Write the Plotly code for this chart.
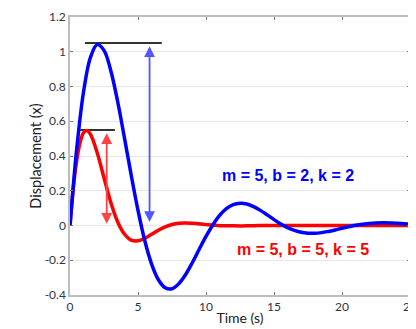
import plotly.graph_objects as go

# Time samples (s)
t_blue = [0, 0.5, 1, 1.5, 2, 2.5, 3, 3.5, 4, 4.5, 5, 5.5, 6, 6.5, 7, 7.5, 8, 8.5, 9, 9.5,
          10, 10.5, 11, 11.5, 12, 12.5, 13, 13.5, 14, 14.5, 15, 15.5, 16, 16.5, 17, 17.5,
          18, 18.5, 19, 19.5, 20, 21, 22, 23, 24, 25]
x_blue = [0, 0.446, 0.771, 0.967, 1.041, 1.008, 0.891, 0.715, 0.506, 0.290, 0.087, -0.088,
          -0.222, -0.312, -0.358, -0.364, -0.335, -0.282, -0.213, -0.137, -0.063, 0.003,
          0.058, 0.097, 0.120, 0.128, 0.124, 0.109, 0.087, 0.061, 0.034, 0.009, -0.012,
          -0.028, -0.039, -0.044, -0.045, -0.041, -0.034, -0.026, -0.016, 0.001, 0.012,
          0.016, 0.013, 0.007]

t_red = [0, 0.25, 0.5, 0.75, 1, 1.25, 1.5, 2, 2.5, 3, 3.5, 4, 4.5, 5, 5.5, 6, 6.5, 7, 7.5,
         8, 9, 10, 11, 12, 13, 14, 16, 18, 20, 22, 25]
x_red = [0, 0.219, 0.377, 0.480, 0.534, 0.546, 0.526, 0.419, 0.274, 0.133, 0.022, -0.049,
         -0.084, -0.088, -0.074, -0.051, -0.027, -0.008, 0.006, 0.013, 0.013, 0.005, -0.001,
         -0.002, -0.002, 0, 0, 0, 0, 0, 0]

blue_label = "m = 5, b = 2, k = 2"
red_label = "m = 5, b = 5, k = 5"

# peak markers / amplitude arrows
blue_peak = 1.05
red_peak = 0.55

fig = go.Figure()
# black peak lines
fig.add_trace(go.Scatter(x=[1.1, 6.75], y=[blue_peak, blue_peak], mode="lines",
                         line=dict(color="#333333", width=2), showlegend=False, hoverinfo="skip"))
fig.add_trace(go.Scatter(x=[0.75, 3.3], y=[red_peak, red_peak], mode="lines",
                         line=dict(color="#333333", width=2), showlegend=False, hoverinfo="skip"))

fig.add_trace(go.Scatter(x=t_red, y=x_red, mode="lines", line=dict(color="#ff0000", width=3.5, shape="spline"),
                         showlegend=False))
fig.add_trace(go.Scatter(x=t_blue, y=x_blue, mode="lines", line=dict(color="#0000ff", width=3.5, shape="spline"),
                         showlegend=False))

# arrows
fig.add_annotation(x=5.85, y=0.02, ax=5.85, ay=blue_peak - 0.01, xref="x", yref="y", axref="x", ayref="y",
                   showarrow=True, arrowhead=2, startarrowhead=2, arrowside="end+start",
                   arrowsize=1.2, startarrowsize=1.2, arrowwidth=1.8, arrowcolor="#5555ff", text="")
fig.add_annotation(x=2.7, y=0.01, ax=2.7, ay=red_peak - 0.01, xref="x", yref="y", axref="x", ayref="y",
                   showarrow=True, arrowhead=2, startarrowhead=2, arrowside="end+start",
                   arrowsize=1.2, startarrowsize=1.2, arrowwidth=1.8, arrowcolor="#ff4444", text="")

fig.add_annotation(x=16.0, y=0.285, text=f"<b>{blue_label}</b>", showarrow=False,
                   font=dict(family="Liberation Sans, Arial", size=16, color="#0000ff"))
fig.add_annotation(x=17.15, y=-0.138, text=f"<b>{red_label}</b>", showarrow=False,
                   font=dict(family="Liberation Sans, Arial", size=16, color="#ff0000"))

axis_common = dict(showline=True, linecolor="#bdbdbd", linewidth=1.5, mirror="ticks",
                   ticks="inside", ticklen=3, tickcolor="#777777", zeroline=False, automargin=False,
                   ticklabeloverflow="allow",
                   tickfont=dict(family="Lato", size=12, color="#333344"))
fig.update_xaxes(range=[0, 25], tickvals=[0, 5, 10, 15, 20, 25], showgrid=False,
                 title=dict(text="Time (s)", font=dict(family="Lato", size=14, color="#222222"), standoff=0),
                 **axis_common)
fig.update_yaxes(range=[-0.4, 1.2], tickvals=[-0.4, -0.2, 0, 0.2, 0.4, 0.6, 0.8, 1, 1.2],
                 ticktext=["-0.4", "-0.2", "0", "0.2", "0.4", "0.6", "0.8", "1", "1.2"],
                 showgrid=True, gridcolor="#e8e8e8", gridwidth=1,
                 title=dict(text="Displacement (x)", font=dict(family="Lato", size=14.5, color="#222222"), standoff=0),
                 **axis_common)

# page body adds an 8px margin, so the figure is offset/sized to match the window
fig.update_layout(width=408, height=321, margin=dict(l=62, r=6, t=9, b=34),
                  paper_bgcolor="white", plot_bgcolor="white")

fig.write_html("out.html")
